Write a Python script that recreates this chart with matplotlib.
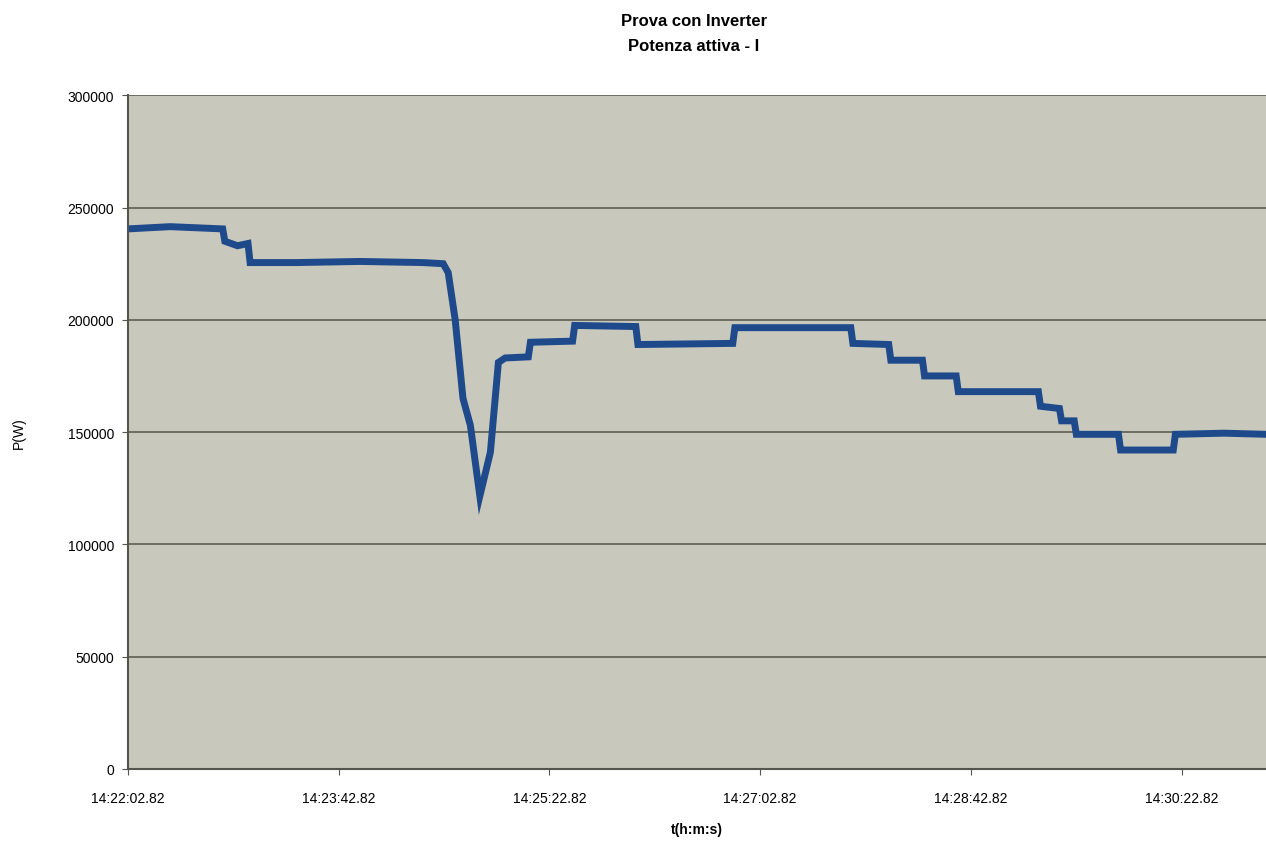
import matplotlib
matplotlib.use("Agg")
import matplotlib.pyplot as plt

# Tempo (s) dall'inizio della prova (14:22:02.82) e potenza attiva (W)
time_s = [0, 20, 45, 46, 52, 57, 58, 80, 110, 140, 149.6, 152, 155.3, 159, 162.5, 167,
          172, 175.8, 179, 190, 191, 211, 212, 241, 242, 287, 288, 343, 344, 361, 362,
          377, 378, 393, 394, 432, 433, 442, 443, 449, 450, 470, 471, 496, 497, 520, 540]
power_w = [240500, 241500, 240500, 235000, 233000, 234000, 225500, 225500, 226000, 225500,
           225000, 221000, 200000, 165000, 153000, 121500, 141000, 181000, 183000, 183500,
           190000, 190500, 197500, 197000, 189000, 189500, 196500, 196500, 189500, 189000,
           182000, 182000, 175000, 175000, 168000, 168000, 161500, 160500, 155000, 155000,
           149000, 149000, 142000, 142000, 149000, 149500, 149000]

tick_pos = [0, 100, 200, 300, 400, 500]
tick_labels = ["14:22:02.82", "14:23:42.82", "14:25:22.82", "14:27:02.82",
               "14:28:42.82", "14:30:22.82"]
y_ticks = [0, 50000, 100000, 150000, 200000, 250000, 300000]

plt.rcParams["font.family"] = ["Liberation Sans Narrow", "Liberation Sans", "DejaVu Sans"]

fig = plt.figure(figsize=(12.66, 8.45), dpi=100)
ax = fig.add_axes([0.101, 0.089, 0.899, 0.797])
ax.set_facecolor("#c8c8bc")

ax.plot(time_s, power_w, color="#1e4a8c", linewidth=5, solid_joinstyle="miter")

ax.set_xlim(0, 540)
ax.set_ylim(0, 300000)
ax.set_yticks(y_ticks)
ax.set_yticklabels([str(v) for v in y_ticks], fontsize=10)
ax.set_xticks(tick_pos)
ax.set_xticklabels(tick_labels, fontsize=10)
ax.grid(axis="y", color="#66665a", linewidth=1.3)
ax.set_axisbelow(True)

for side in ["top", "right"]:
    ax.spines[side].set_visible(False)
ax.spines["left"].set_color("#55554c")
ax.spines["bottom"].set_color("#55554c")
ax.spines["left"].set_linewidth(1.5)
ax.spines["bottom"].set_linewidth(1.5)
ax.tick_params(axis="y", length=4, color="#55554c", pad=6)
ax.tick_params(axis="x", length=4, color="#55554c", pad=12)

ax.set_xlabel("t(h:m:s)", fontsize=10, fontweight="bold", labelpad=12)
ax.set_ylabel("P(W)", fontsize=10, labelpad=30)

fig.text(0.548, 0.975, "Prova con Inverter", ha="center", va="center",
         fontsize=12, fontweight="bold")
fig.text(0.548, 0.945, "Potenza attiva - I", ha="center", va="center",
         fontsize=12, fontweight="bold")

fig.savefig("out.png", dpi=100)
